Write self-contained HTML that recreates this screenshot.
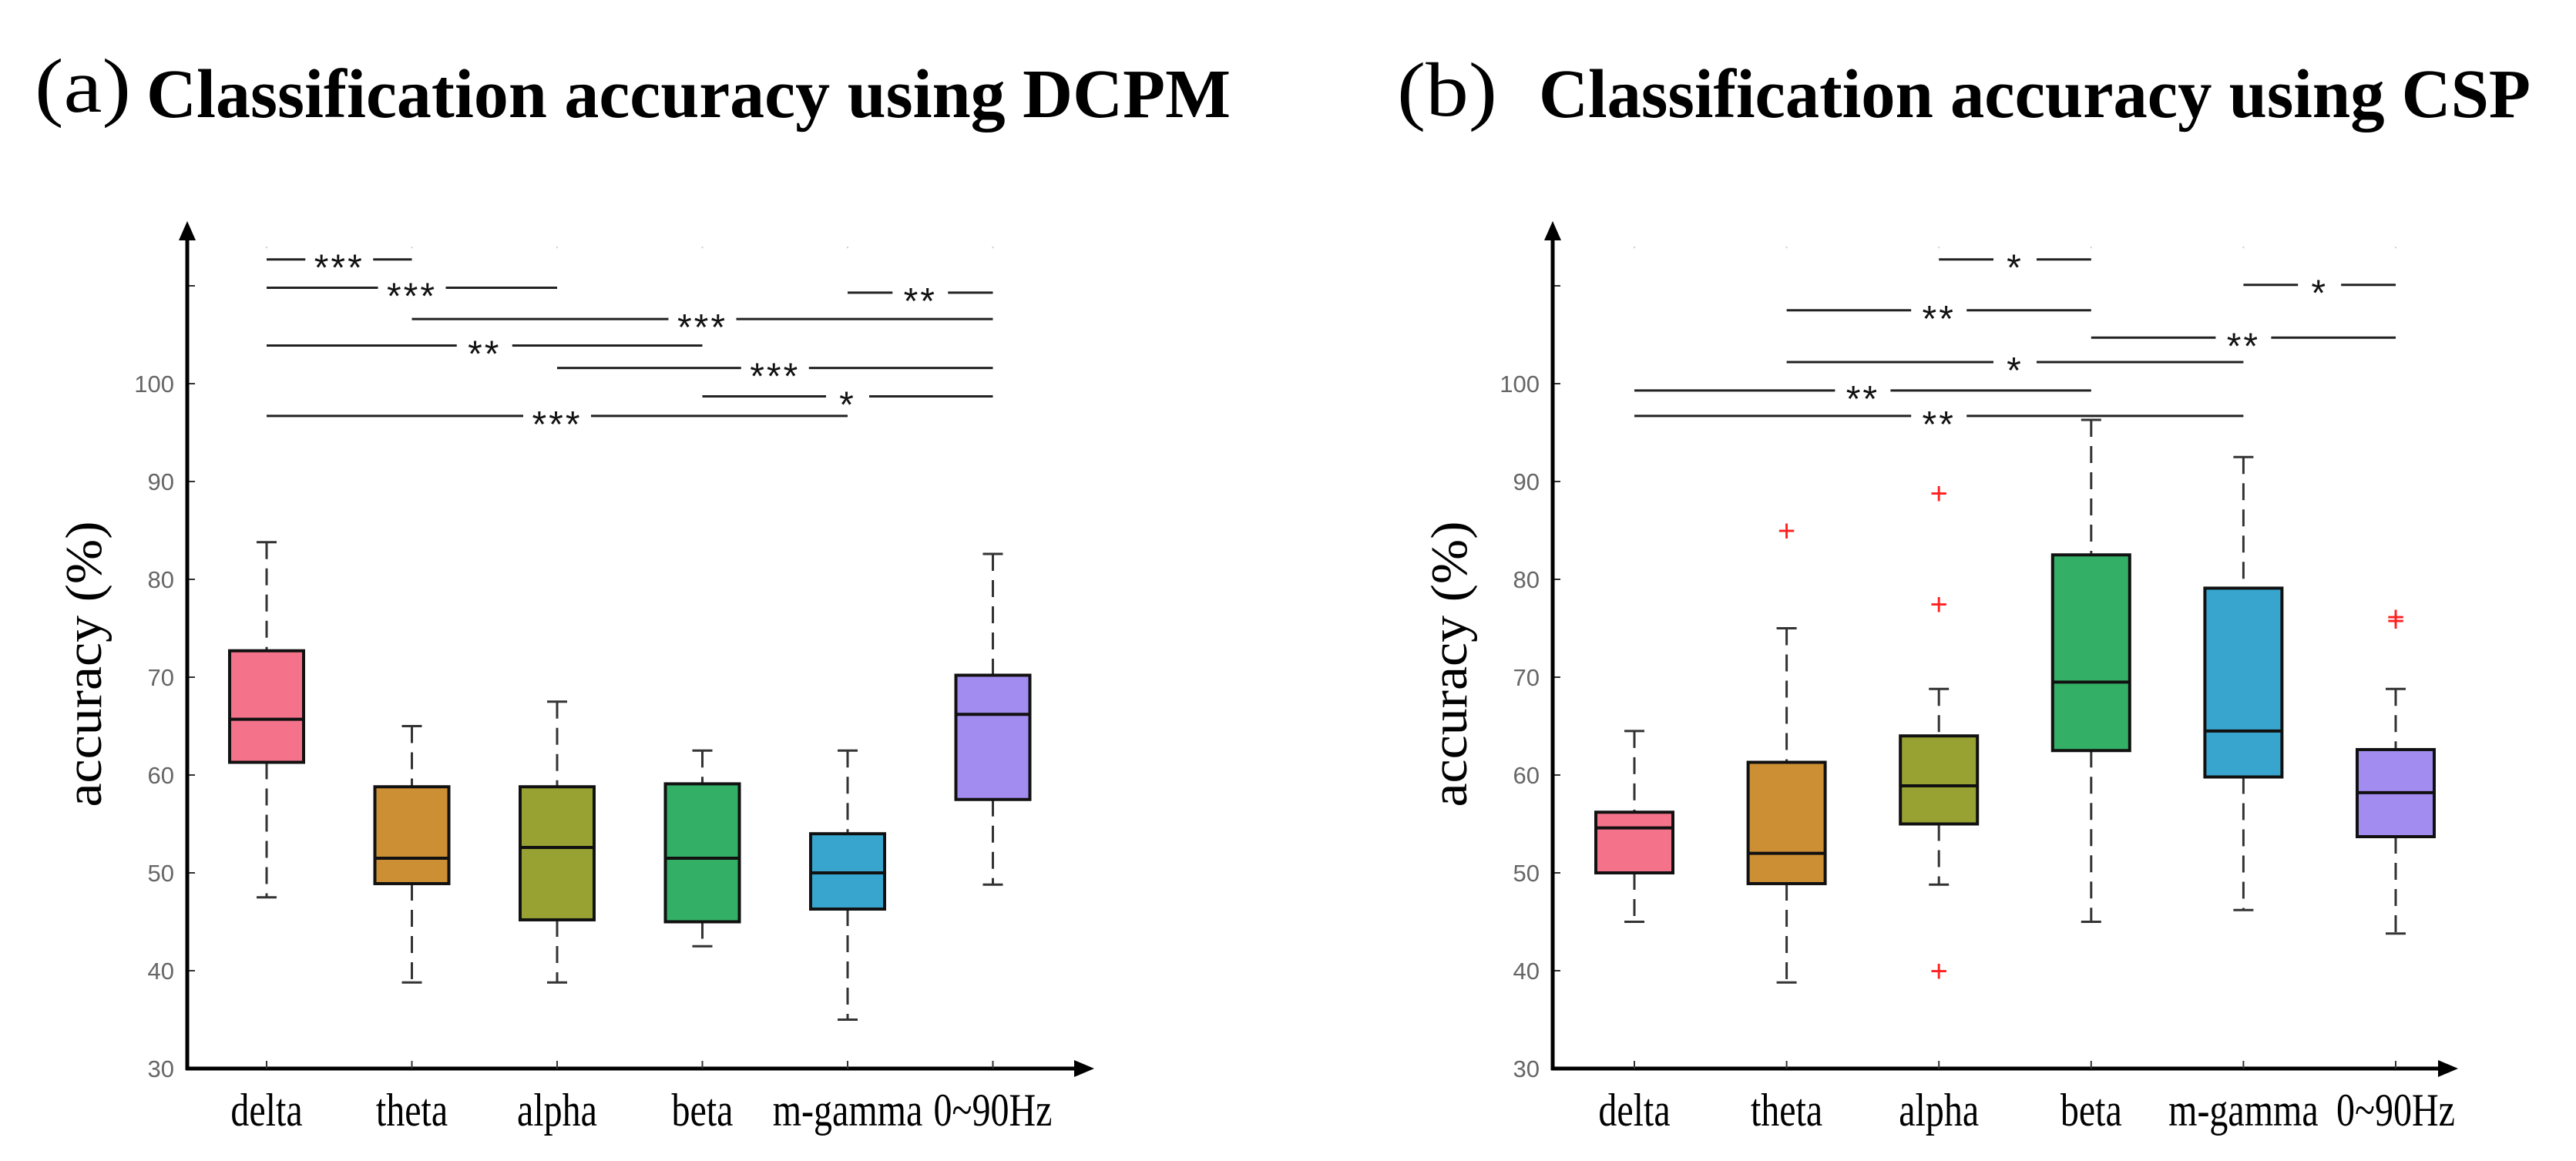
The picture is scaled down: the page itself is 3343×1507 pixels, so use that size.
<!DOCTYPE html>
<html><head><meta charset="utf-8"><style>
html,body{margin:0;padding:0;background:#fff;}
svg{display:block;}
</style></head><body>
<svg id="fig" xmlns="http://www.w3.org/2000/svg" width="3343" height="1507" viewBox="0 0 3343 1507">
<rect width="3343" height="1507" fill="#fff"/>
<text x="45" y="145" font-family="Liberation Serif, serif" font-size="100" textLength="125" lengthAdjust="spacingAndGlyphs">(a)</text>
<text x="190" y="152" font-family="Liberation Serif, serif" font-weight="bold" font-size="90" textLength="1407" lengthAdjust="spacingAndGlyphs">Classification accuracy using DCPM</text>
<text x="1813" y="150" font-family="Liberation Serif, serif" font-size="100" textLength="130" lengthAdjust="spacingAndGlyphs">(b)</text>
<text x="1997" y="152" font-family="Liberation Serif, serif" font-weight="bold" font-size="90" textLength="1287" lengthAdjust="spacingAndGlyphs">Classification accuracy using CSP</text>
<g id="chartA"></g>
<g id="chartB"></g>
</svg>
<script>
const categories = ["delta","theta","alpha","beta","m-gamma","0~90Hz"];
const colors = ["#f4728a","#cd8f34","#97a232","#34b066","#38a5cf","#a28cf0"];
const yTicks = [30,40,50,60,70,80,90,100];
// DCPM
const aWhiskLow = [47.5,38.8,38.8,42.5,35.0,48.8];
const aQ1 = [61.3,48.9,45.2,45.0,46.3,57.5];
const aMedian = [65.7,51.5,52.6,51.5,50.0,66.2];
const aQ3 = [72.7,58.8,58.8,59.1,54.0,70.2];
const aWhiskHigh = [83.8,65.0,67.5,62.5,62.5,82.6];
const aOutliers = [[],[],[],[],[],[]];
const aSigFrom = [0,0,1,0,2,3,0,4];
const aSigTo = [1,2,5,3,5,5,4,5];
const aSigLevel = [112.7,109.8,106.6,103.9,101.6,98.7,96.7,109.3];
const aSigText = ["***","***","***","**","***","*","***","**"];
// CSP
const bWhiskLow = [45.0,38.8,48.8,45.0,46.2,43.8];
const bQ1 = [50.0,48.9,55.0,62.5,59.8,53.7];
const bMedian = [54.6,52.0,58.9,69.5,64.5,58.2];
const bQ3 = [56.2,61.3,64.0,82.5,79.1,62.6];
const bWhiskHigh = [64.5,75.0,68.8,96.3,92.5,68.8];
const bOutliers = [[],[85.0],[88.8,77.5,40.0],[],[],[76.2,75.8]];
const bSigFrom = [2,4,1,3,1,0,0];
const bSigTo = [3,5,3,5,4,3,4];
const bSigLevel = [112.7,110.1,107.5,104.7,102.2,99.3,96.7];
const bSigText = ["*","*","**","**","*","**","**"];

const NS="http://www.w3.org/2000/svg";
function mk(parent,tag,attrs){const e=document.createElementNS(NS,tag);for(const k in attrs)e.setAttribute(k,attrs[k]);parent.appendChild(e);return e;}

function drawChart(g, cfg, d){
  const y = v => cfg.y0 - (v-30)*cfg.pxPer;
  const x = i => cfg.x0 + i*cfg.step;
  const yl = mk(g,'text',{x:0,y:0,'font-family':'Liberation Serif, serif','font-size':70,'text-anchor':'middle',transform:`translate(${cfg.ax-112},862) rotate(-90) scale(1,0.95)`});
  
  
  yl.textContent='accuracy (%)';
  for(let i=0;i<categories.length;i++){
    const dt=mk(g,'line',{x1:x(i),x2:x(i),y1:y(114),y2:y(114)+2,stroke:'#ccc','stroke-width':2});
    
    
  }
  yTicks.concat([110]).forEach(t=>{
    const tk=mk(g,'line',{x1:cfg.ax,x2:cfg.ax+10,y1:y(t),y2:y(t),stroke:'#333','stroke-width':2});
    
    
  });
  yTicks.forEach(t=>{
    const tl=mk(g,'text',{x:cfg.ax-17,y:y(t)+11,'font-family':'Liberation Sans, sans-serif','font-size':31,'text-anchor':'end',fill:'#666'});
    
    
    tl.textContent=t;
  });
  const ya=mk(g,'line',{x1:cfg.ax,x2:cfg.ax,y1:y(30)+2,y2:cfg.topArrow+20,stroke:'#000','stroke-width':5});
  
  
  const yarr=mk(g,'polygon',{points:`${cfg.ax-11},${cfg.topArrow+25} ${cfg.ax+11},${cfg.topArrow+25} ${cfg.ax},${cfg.topArrow}`,fill:'#000'});
  
  
  const xa=mk(g,'line',{x1:cfg.ax-2,x2:cfg.rightArrow-20,y1:y(30),y2:y(30),stroke:'#000','stroke-width':5});
  
  
  const xarr=mk(g,'polygon',{points:`${cfg.rightArrow-26},${y(30)-11} ${cfg.rightArrow-26},${y(30)+11} ${cfg.rightArrow},${y(30)}`,fill:'#000'});
  
  
  for(let i=0;i<categories.length;i++){
    const cx=x(i), w=cfg.boxW;
    const wh=mk(g,'line',{x1:cx,x2:cx,y1:y(d.hi[i]),y2:y(d.q3[i]),stroke:'#333','stroke-width':3,'stroke-dasharray':'22,12'});
    
    
    const wl=mk(g,'line',{x1:cx,x2:cx,y1:y(d.q1[i]),y2:y(d.lo[i]),stroke:'#333','stroke-width':3,'stroke-dasharray':'22,12'});
    
    
    const ch=mk(g,'line',{x1:cx-13,x2:cx+13,y1:y(d.hi[i]),y2:y(d.hi[i]),stroke:'#333','stroke-width':3});
    
    
    const cl=mk(g,'line',{x1:cx-13,x2:cx+13,y1:y(d.lo[i]),y2:y(d.lo[i]),stroke:'#333','stroke-width':3});
    
    
    const b=mk(g,'rect',{x:cx-w/2,y:y(d.q3[i]),width:w,height:y(d.q1[i])-y(d.q3[i]),fill:colors[i],stroke:'#111','stroke-width':4});
    
    
    const m=mk(g,'line',{x1:cx-w/2,x2:cx+w/2,y1:y(d.med[i]),y2:y(d.med[i]),stroke:'#111','stroke-width':4});
    
    
    const xt=mk(g,'line',{x1:cx,x2:cx,y1:y(30),y2:y(30)-10,stroke:'#333','stroke-width':2});
    
    
    const lb=mk(g,'text',{x:0,y:0,'font-family':'Liberation Serif, serif','font-size':60,'text-anchor':'middle',transform:`translate(${cx},1461) scale(0.8,1)`});
    
    
    lb.textContent=categories[i];
    d.out[i].forEach(v=>{
      const o=mk(g,'text',{x:cx,y:y(v)+14,'font-family':'Liberation Sans, sans-serif','font-size':40,'text-anchor':'middle',fill:'#ff2020'});
      
      
      o.textContent='+';
    });
  }
  for(let k=0;k<d.sf.length;k++){
    const x1=x(d.sf[k]), x2=x(d.st[k]);
    const yy=y(d.sl[k]);
    const mid=(x1+x2)/2;
    const gap=d.stx[k].length*8+20;
    const l1=mk(g,'line',{x1:x1,x2:mid-gap,y1:yy,y2:yy,stroke:'#222','stroke-width':3});
    
    
    const l2=mk(g,'line',{x1:mid+gap,x2:x2,y1:yy,y2:yy,stroke:'#222','stroke-width':3});
    
    
    const t=mk(g,'text',{x:mid,y:yy+27,'font-family':'Liberation Sans, sans-serif','font-size':48,'text-anchor':'middle',fill:'#111','letter-spacing':3});
    
    
    t.textContent=d.stx[k];
  }
}
drawChart(document.getElementById('chartA'),
  {x0:346,step:188.5,y0:1387,pxPer:12.7,ax:243,topArrow:287,rightArrow:1420,boxW:96},
  {lo:aWhiskLow,q1:aQ1,med:aMedian,q3:aQ3,hi:aWhiskHigh,out:aOutliers,sf:aSigFrom,st:aSigTo,sl:aSigLevel,stx:aSigText});
drawChart(document.getElementById('chartB'),
  {x0:2121,step:197.6,y0:1387,pxPer:12.7,ax:2015,topArrow:287,rightArrow:3190,boxW:100},
  {lo:bWhiskLow,q1:bQ1,med:bMedian,q3:bQ3,hi:bWhiskHigh,out:bOutliers,sf:bSigFrom,st:bSigTo,sl:bSigLevel,stx:bSigText});
</script>
</body></html>
